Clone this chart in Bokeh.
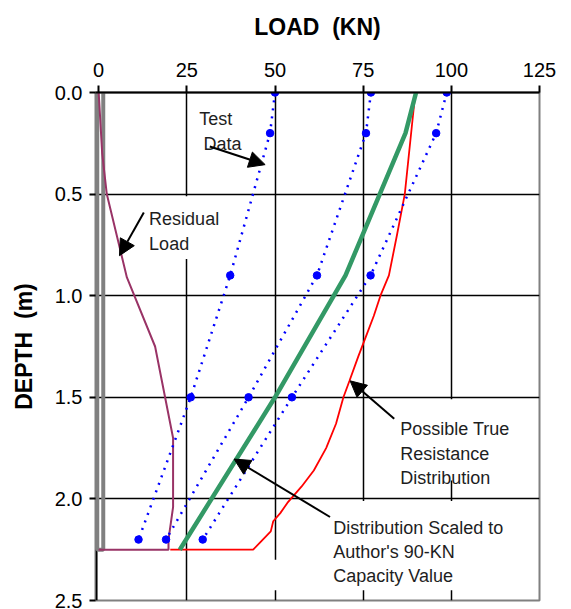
from bokeh.plotting import figure
from bokeh.models import (Range1d, FixedTicker, Label, Arrow, NormalHead,
                          BoxAnnotation, PrintfTickFormatter)
from bokeh.embed import file_html
from bokeh.resources import INLINE

# ---------------- data ----------------
x_ticks = [0, 25, 50, 75, 100, 125]
y_ticks = [0.0, 0.5, 1.0, 1.5, 2.0, 2.5]
x_grid = [25, 50, 75, 100]
y_grid = [0.5, 1.0, 1.5, 2.0]

test_depth = [0.0, 0.2, 0.9, 1.5, 2.2]
test_a = [50.0, 48.6, 37.3, 26.1, 11.3]
test_b = [77.2, 75.8, 61.9, 42.5, 19.1]
test_c = [98.7, 95.7, 77.1, 54.8, 29.5]

scaled_depth = [0.0, 0.2, 0.9, 1.5, 2.25]
scaled_load = [90.0, 87.0, 70.0, 50.0, 23.0]

true_depth = [0.0, 0.5, 0.7, 0.9, 1.0, 1.1, 1.2, 1.3, 1.42, 1.5, 1.63, 1.75,
              1.86, 1.94, 2.02, 2.07, 2.11, 2.16, 2.21, 2.25, 2.25]
true_load = [89.8, 86.8, 84.6, 82.3, 79.9, 78.0, 75.8, 73.6, 71.1, 69.4, 67.3,
             64.5, 61.0, 57.5, 53.5, 51.5, 49.5, 48.8, 46.0, 43.8, 20.3]

resid_depth = [0.0, 0.3, 0.5, 0.91, 1.25, 1.7, 2.04, 2.2, 2.25, 2.25]
resid_load = [0.0, 1.0, 2.3, 8.0, 16.0, 21.1, 21.1, 19.8, 19.8, 0.0]

pile_depth = [0.0, 2.25, 2.25, 0.0]
pile_load = [-0.4, -0.4, 1.3, 1.3]

FONT = "Liberation Sans"
BLUE = "#0000ff"

p = figure(width=560, height=609,
           x_range=Range1d(-0.9, 125), y_range=Range1d(2.5, 0),
           x_axis_location="above",
           output_backend="svg", toolbar_location=None,
           min_border_left=95, min_border_right=21,
           min_border_top=92, min_border_bottom=9)

p.outline_line_color = "#808080"
p.outline_line_width = 2
p.background_fill_color = "white"
p.border_fill_color = "white"

# grids
p.xgrid.ticker = FixedTicker(ticks=x_grid)
p.ygrid.ticker = FixedTicker(ticks=y_grid)
for g in (p.xgrid, p.ygrid):
    g.grid_line_color = "black"
    g.grid_line_width = 1.5

# axes
xa = p.xaxis[0]
xa.ticker = FixedTicker(ticks=x_ticks)
xa.axis_label = "LOAD \u00a0(KN)"
ya = p.yaxis[0]
ya.ticker = FixedTicker(ticks=y_ticks)
ya.formatter = PrintfTickFormatter(format="%.1f")
ya.axis_label = "DEPTH \u00a0(m)"
for ax in (xa, ya):
    ax.major_label_text_font = FONT
    ax.major_label_text_font_size = "20px"
    ax.major_label_text_color = "black"
    ax.axis_label_text_font = FONT
    ax.axis_label_text_font_size = "23px"
    ax.axis_label_text_font_style = "bold"
    ax.axis_label_text_color = "black"
    ax.major_tick_in = 0
    ax.minor_tick_line_color = None
    ax.major_tick_line_color = "black"
    ax.major_tick_line_width = 2
    ax.axis_line_width = 2
    ax.axis_line_color = "black"
xa.major_tick_out = 7
xa.major_label_standoff = 9
xa.axis_label_standoff = 20
ya.major_tick_out = 6
ya.major_label_standoff = 7
ya.axis_label_standoff = 15
ya.axis_line_color = None
ya.major_label_orientation = "horizontal"

# white boxes behind text
for l, r, t, b in [(12, 36, 0.51, 0.82), (84, 117, 1.51, 1.91),
                   (65, 117, 2.01, 2.45), (45, 65, 2.30, 2.45)]:
    p.add_layout(BoxAnnotation(left=l, right=r, top=t, bottom=b,
                               fill_color="white", fill_alpha=1.0, line_color=None))

# left axis line below the pile
p.segment(x0=[-0.6], y0=[2.25], x1=[-0.6], y1=[2.5], line_color="black", line_width=2)

# pile
p.line(pile_load, pile_depth, line_color="#808080", line_width=4)

# series
p.line(resid_load, resid_depth, line_color="#993366", line_width=2)
p.line(true_load, true_depth, line_color="#ff0000", line_width=1.8)
p.line(scaled_load, scaled_depth, line_color="#339966", line_width=4.5)
for s in (test_a, test_b, test_c):
    p.line(s, test_depth, line_color=BLUE, line_width=2.5, line_dash="2 6")
    p.scatter(s, test_depth, marker="circle", size=7.5, color=BLUE)

# text annotations
def lab(x, y, t):
    p.add_layout(Label(x=x, y=y, text=t, text_font=FONT, text_font_size="18px",
                       text_color="#1e1e1e", text_baseline="alphabetic",
                       text_align="left"))

lab(28.5, 0.128, "Test")
lab(29.7, 0.251, "Data")
lab(14.3, 0.621, "Residual")
lab(14.3, 0.744, "Load")
lab(85.5, 1.655, "Possible True")
lab(85.5, 1.778, "Resistance")
lab(85.5, 1.897, "Distribution")
lab(66.5, 2.143, "Distribution Scaled to")
lab(66.5, 2.261, "Author's 90-KN")
lab(66.5, 2.379, "Capacity Value")

def arrow(x0, y0, x1, y1):
    p.add_layout(Arrow(end=NormalHead(size=16, fill_color="black", line_color="black"),
                       x_start=x0, y_start=y0, x_end=x1, y_end=y1,
                       line_color="black", line_width=2))

arrow(31.5, 0.266, 47.2, 0.355)
arrow(12.8, 0.59, 5.9, 0.803)
arrow(83.8, 1.606, 71.3, 1.419)
arrow(65.6, 2.089, 38.4, 1.804)

open("out.html", "w").write(file_html(p, INLINE))
